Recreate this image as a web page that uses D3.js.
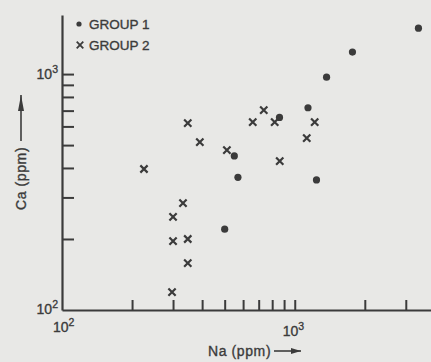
<!DOCTYPE html>
<html><head><meta charset="utf-8">
<script src="https://cdn.jsdelivr.net/npm/d3@7"></script>
<style>body{margin:0;background:#e8e8e6} svg{display:block} text{stroke:#3b3b3b;stroke-width:0.35px}</style>
</head><body><svg id="chart" width="431" height="362"></svg>
<script>
// ---- data ----
const group1Na = [500, 550, 570, 860, 1140, 1240, 1370, 1770, 3400];
const group1Ca = [220, 450, 365, 655, 720, 356, 970, 1240, 1565];
const group2Na = [225, 297, 300, 300, 331, 347, 347, 347, 391, 511, 660, 736, 820, 862, 1126, 1218];
const group2Ca = [396, 119, 248, 196, 284, 200, 158, 620, 515, 476, 626, 704, 626, 428, 535, 626];
const xTicks = [200, 300, 400, 500, 600, 700, 800, 900, 1000, 2000, 3000];
const yTicks = [200, 300, 400, 500, 600, 700, 800, 900, 1000];
const xDomain = [100, 3850];
const yDomain = [100, 1780];
const legendLabels = ["GROUP 1", "GROUP 2"];

const ink = "#3b3b3b";
const svg = d3.select("#chart");
const W = 431, H = 362;
svg.append("rect").attr("width", W).attr("height", H).attr("fill", "#e8e8e6");

const x = d3.scaleLog().domain(xDomain).range([62, 431]);
const y = d3.scaleLog().domain(yDomain).range([310, 15]);

// axes
const xAxis = d3.axisBottom(x).tickValues(xTicks).tickSize(-10).tickFormat("").tickSizeOuter(0);
const gx = svg.append("g").attr("transform", `translate(0,${y(100)})`).call(xAxis);
const yAxis = d3.axisLeft(y).tickValues(yTicks).tickSize(-12).tickFormat("").tickSizeOuter(0);
const gy = svg.append("g").attr("transform", `translate(${x(100)},0)`).call(yAxis);
[gx, gy].forEach(g => {
  g.selectAll("path.domain").attr("stroke", ink).attr("stroke-width", 2.2);
  g.selectAll(".tick line").attr("stroke", ink).attr("stroke-width", 2);
});

const font = "'Liberation Sans', Arial, sans-serif";
function pow10(sel, exp) {
  sel.append("tspan").text("10");
  sel.append("tspan").attr("dy", -6).attr("font-size", 10.5).text(exp);
}
// tick labels
svg.append("text").attr("x", x(100) - 4).attr("y", y(1000) + 5).attr("text-anchor", "end")
  .attr("font-family", font).attr("font-size", 14).attr("fill", ink).call(pow10, "3");
svg.append("text").attr("x", x(100) - 4).attr("y", y(100) + 4).attr("text-anchor", "end")
  .attr("font-family", font).attr("font-size", 14).attr("fill", ink).call(pow10, "2");
svg.append("text").attr("x", x(100) - 9).attr("y", y(100) + 22).attr("text-anchor", "start")
  .attr("font-family", font).attr("font-size", 14).attr("fill", ink).call(pow10, "2");
svg.append("text").attr("x", x(1000) - 12).attr("y", y(100) + 26).attr("text-anchor", "start")
  .attr("font-family", font).attr("font-size", 14).attr("fill", ink).call(pow10, "3");

// axis titles
svg.append("text").attr("x", 208).attr("y", 356).attr("font-family", font).attr("font-size", 14)
  .attr("letter-spacing", 0.6).attr("fill", ink).text("Na (ppm)");
svg.append("defs").append("marker").attr("id", "ah").attr("viewBox", "0 0 10 6")
  .attr("refX", 10).attr("refY", 3).attr("markerWidth", 10).attr("markerHeight", 6)
  .attr("markerUnits", "userSpaceOnUse").attr("orient", "auto")
  .append("path").attr("d", "M0,0L10,3L0,6Z").attr("fill", ink);
svg.append("line").attr("x1", 274).attr("y1", 351).attr("x2", 301).attr("y2", 351)
  .attr("stroke", ink).attr("stroke-width", 1.6).attr("marker-end", "url(#ah)");

svg.append("text").attr("transform", "translate(26,210) rotate(-90)").attr("font-family", font)
  .attr("font-size", 14).attr("letter-spacing", 0.6).attr("fill", ink).text("Ca (ppm)");
svg.append("defs").append("marker").attr("id", "ah2").attr("viewBox", "0 0 16 6")
  .attr("refX", 16).attr("refY", 3).attr("markerWidth", 16).attr("markerHeight", 6)
  .attr("markerUnits", "userSpaceOnUse").attr("orient", "auto")
  .append("path").attr("d", "M0,0L16,3L0,6Z").attr("fill", ink);
svg.append("line").attr("x1", 21).attr("y1", 141).attr("x2", 21).attr("y2", 95)
  .attr("stroke", ink).attr("stroke-width", 1.6).attr("marker-end", "url(#ah2)");

// marks
const g1 = group1Na.map((v, i) => [v, group1Ca[i]]);
const g2 = group2Na.map((v, i) => [v, group2Ca[i]]);
svg.append("g").selectAll("circle").data(g1).join("circle")
  .attr("cx", d => x(d[0])).attr("cy", d => y(d[1])).attr("r", 3.6).attr("fill", ink);
const cross = d3.symbol().type(d3.symbolX).size(36);
svg.append("g").selectAll("path").data(g2).join("path")
  .attr("transform", d => `translate(${x(d[0])},${y(d[1])})`).attr("d", cross)
  .attr("fill", "none").attr("stroke", ink).attr("stroke-width", 2.2);

// legend
const lg = svg.append("g");
lg.append("circle").attr("cx", 79).attr("cy", 24).attr("r", 2.6).attr("fill", ink);
lg.append("path").attr("transform", "translate(80,45)").attr("d", d3.symbol().type(d3.symbolX).size(30))
  .attr("fill", "none").attr("stroke", ink).attr("stroke-width", 1.8);
legendLabels.forEach((t, i) => {
  lg.append("text").attr("x", 89).attr("y", 28.5 + i * 21).attr("font-family", font)
    .attr("font-size", 13.5).attr("fill", ink).text(t);
});
</script>
</body></html>
